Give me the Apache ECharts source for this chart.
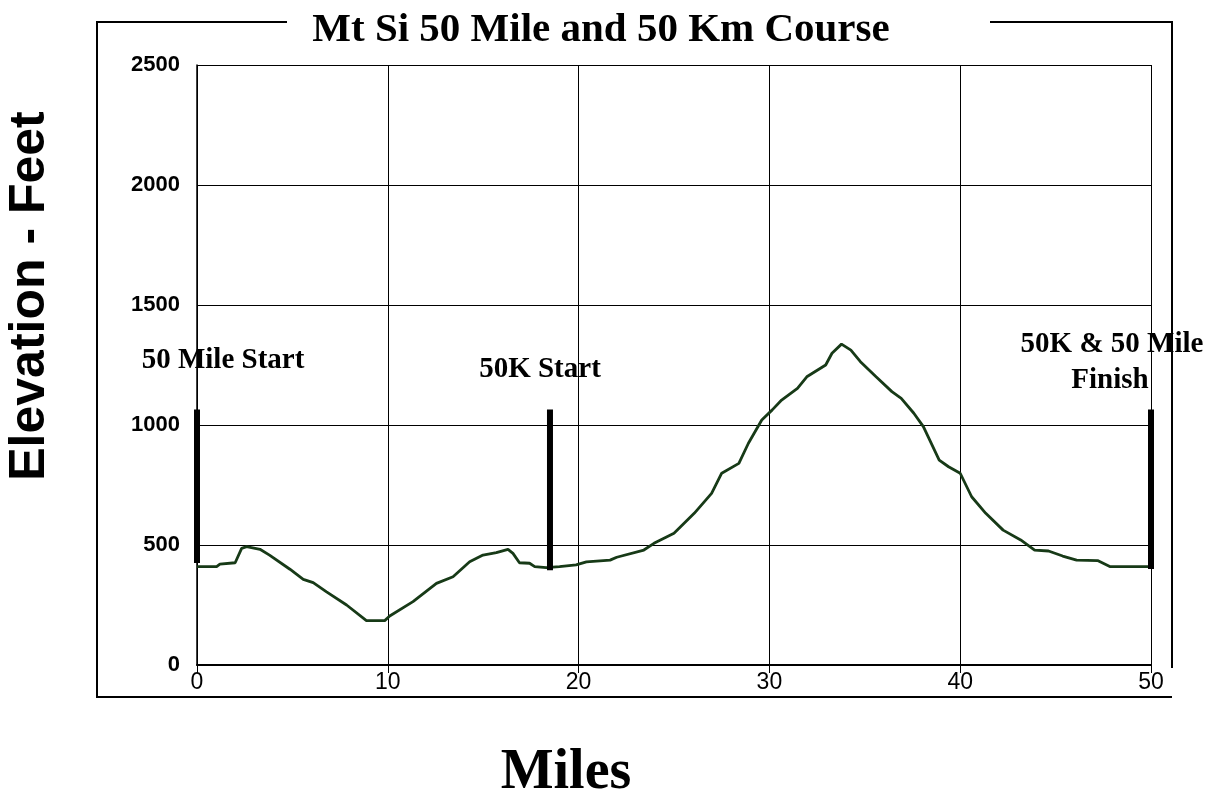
<!DOCTYPE html>
<html>
<head>
<meta charset="utf-8">
<script src="https://cdn.jsdelivr.net/npm/echarts@6/dist/echarts.min.js"></script>
<style>
html,body{margin:0;padding:0;background:#fff;}
#c{width:1220px;height:795px;}
</style>
</head>
<body>
<div id="c"></div>
<script>
// ---- data ----
var miles = [0,1.03,1.2,2.0,2.34,2.6,3.3,3.8,4.87,5.57,6.09,6.79,7.84,8.88,9.84,10.1,11.32,12.55,13.42,14.29,14.99,15.69,16.3,16.56,16.9,17.43,17.7,18.3,19.0,19.87,20.41,21.65,22.0,23.42,23.95,25.0,26.06,26.97,27.5,28.4,28.9,29.6,30.15,30.64,31.47,31.96,32.95,33.28,33.78,34.27,34.77,35.59,36.42,36.91,37.57,38.07,38.9,39.39,40.0,40.6,41.34,42.25,43.17,43.9,44.63,45.37,46.1,47.2,47.84,49.84,50];
var elevation = [410,410,420,426,486,493,482,458,399,357,343,305,250,185,185,204,264,340,368,430,458,468,482,465,426,424,410,406,410,417,430,437,449,479,507,549,632,715,799,840,924,1021,1063,1104,1153,1201,1250,1299,1337,1312,1264,1201,1139,1111,1049,993,854,826,799,701,632,562,521,479,475,454,437,435,410,410,410];
var markerMiles = [0, 18.5, 50];
var markerBottom = [425, 395, 400];
var markerTop = [1065, 1065, 1065];
var markerNames = ["50 Mile Start", "50K Start", "50K & 50 Mile Finish"];
var yTicks = [0, 500, 1000, 1500, 2000, 2500];
var xTicks = [0, 10, 20, 30, 40, 50];
var titleText = "Mt Si 50 Mile and 50 Km Course";
var xName = "Miles";
var yName = "Elevation - Feet";

var chart = echarts.init(document.getElementById('c'), null, {renderer: 'canvas'});

var profile = miles.map(function (m, i) { return [m, elevation[i]]; });

var series = [{
  type: 'line',
  data: profile,
  showSymbol: false,
  symbol: 'none',
  smooth: false,
  lineStyle: {color: '#173a17', width: 2.8},
  z: 3
}];
markerMiles.forEach(function (m, i) {
  series.push({
    type: 'line',
    name: markerNames[i],
    data: [[m, markerBottom[i]], [m, markerTop[i]]],
    symbol: 'none',
    lineStyle: {color: '#000', width: 6, cap: 'butt'},
    z: 4
  });
});

var serif = '"Liberation Serif", "Times New Roman", serif';
var sans = '"Liberation Sans", Arial, sans-serif';

chart.setOption({
  animation: false,
  backgroundColor: '#fff',
  grid: {left: 197, right: 69, top: 65, bottom: 130, containLabel: false},
  xAxis: {
    type: 'value', min: xTicks[0], max: xTicks[xTicks.length - 1], interval: 10,
    axisLine: {lineStyle: {color: '#000', width: 2}},
    axisTick: {show: true, length: 8, lineStyle: {color: '#000', width: 1}},
    axisLabel: {color: '#000', fontFamily: sans, fontSize: 23, margin: 6,
      formatter: function (v) { return String(v); }},
    splitLine: {show: true, lineStyle: {color: '#000', width: 1}}
  },
  yAxis: {
    type: 'value', min: yTicks[0], max: yTicks[yTicks.length - 1], interval: 500,
    axisLine: {show: true, lineStyle: {color: '#000', width: 1.5}},
    axisTick: {show: false},
    axisLabel: {color: '#000', fontFamily: sans, fontSize: 22, fontWeight: 'bold', margin: 17,
      formatter: function (v) { return String(v); }},
    splitLine: {show: true, lineStyle: {color: '#000', width: 1}}
  },
  series: series,
  graphic: [
    // frame
    {type: 'line', shape: {x1: 97, y1: 22, x2: 97, y2: 697}, style: {stroke: '#000', lineWidth: 2}},
    {type: 'line', shape: {x1: 96, y1: 22, x2: 287, y2: 22}, style: {stroke: '#000', lineWidth: 2}},
    {type: 'line', shape: {x1: 990, y1: 22, x2: 1173, y2: 22}, style: {stroke: '#000', lineWidth: 2}},
    {type: 'line', shape: {x1: 1172, y1: 21, x2: 1172, y2: 668}, style: {stroke: '#000', lineWidth: 2}},
    {type: 'line', shape: {x1: 96, y1: 697, x2: 1172, y2: 697}, style: {stroke: '#000', lineWidth: 2}},
    // title
    {type: 'text', x: 601, y: 30, style: {text: titleText, font: 'bold 41px ' + serif, fill: '#000', align: 'center', verticalAlign: 'middle'}},
    // axis names
    {type: 'text', x: 30, y: 296, rotation: Math.PI / 2, style: {text: yName, font: 'bold 50px ' + sans, fill: '#000', align: 'center', verticalAlign: 'middle'}},
    {type: 'text', x: 566, y: 774, style: {text: xName, font: 'bold 56px ' + serif, fill: '#000', align: 'center', verticalAlign: 'middle'}},
    // marker labels
    {type: 'text', x: 223, y: 361, z: 10, style: {text: "50 Mile Start", font: 'bold 29px ' + serif, fill: '#000', align: 'center', verticalAlign: 'middle'}},
    {type: 'text', x: 540, y: 370, z: 10, style: {text: "50K Start", font: 'bold 29px ' + serif, fill: '#000', align: 'center', verticalAlign: 'middle'}},
    {type: 'text', x: 1112, y: 345, z: 10, style: {text: "50K & 50 Mile", font: 'bold 29px ' + serif, fill: '#000', align: 'center', verticalAlign: 'middle'}},
    {type: 'text', x: 1110, y: 381, z: 10, style: {text: "Finish", font: 'bold 29px ' + serif, fill: '#000', align: 'center', verticalAlign: 'middle'}}
  ]
});
</script>
</body>
</html>
